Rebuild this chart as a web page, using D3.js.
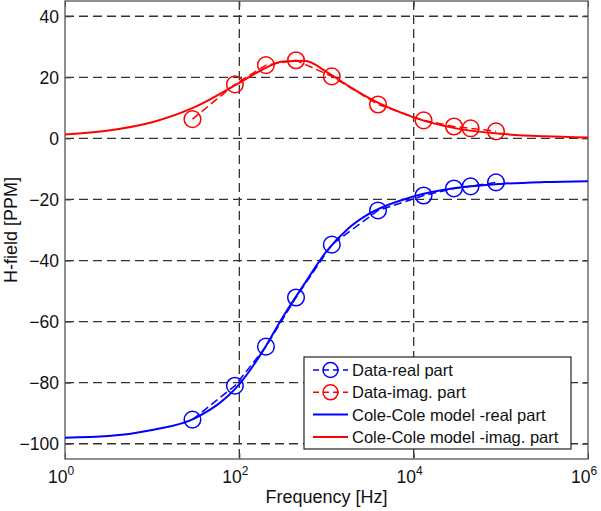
<!DOCTYPE html>
<html><head><meta charset="utf-8">
<script src="https://cdn.jsdelivr.net/npm/d3@7"></script>
<style>body{margin:0;background:#fff}svg{display:block}</style>
</head><body>
<svg id="c" width="601" height="511"></svg>
<script>
// ---- data ----
const dataFreq = [29, 89, 202, 447, 1150, 3900, 13000, 29000, 45000, 88000];
const dataReal = [-92.1, -81, -68.2, -52.1, -34.8, -23.6, -18.7, -16.4, -15.7, -14.4];
const dataImag = [6.3, 17.7, 24, 25.6, 20.3, 11.1, 5.9, 3.9, 3.3, 2.3];

const modelFreq = [1, 3.16, 10, 31.6, 100, 178, 316, 562, 1000, 1778, 3162, 10000, 31623, 100000, 316228, 1000000];
const modelReal = [-98, -97.5, -95.5, -91.5, -80.5, -70.5, -58.5, -47.5, -37, -29.5, -24.5, -19, -16.2, -14.9, -14.3, -14.0];
const modelImag = [1.3, 2.6, 5.3, 10.4, 18.2, 22.3, 25.2, 25.4, 21.8, 17.2, 13.0, 6.9, 3.2, 1.5, 0.7, 0.3];

const yTicks = [-100, -80, -60, -40, -20, 0, 20, 40];
const xTickExps = [0, 2, 4, 6];
const legendLabels = ["Data-real part", "Data-imag. part", "Cole-Cole model -real part", "Cole-Cole model -imag. part"];

// ---- layout ----
const L = 65, R = 588, T = 1, B = 459;
const svg = d3.select("#c");
const x = d3.scaleLog().domain([1, 1e6]).range([L, R]);
const y = d3.scaleLinear().domain([-105, 45]).range([B, T]);
const font = "'Liberation Sans', Arial, sans-serif";
const blue = "#0000ff", red = "#ff0000";

// grid
const g = svg.append("g");
g.selectAll(".hg").data(yTicks).join("line")
  .attr("x1", L).attr("x2", R).attr("y1", d => y(d)).attr("y2", d => y(d))
  .attr("stroke", "#333").attr("stroke-width", 1.3).attr("stroke-dasharray", "9,5");
g.selectAll(".vg").data(xTickExps.slice(1, 3)).join("line")
  .attr("x1", d => x(Math.pow(10, d))).attr("x2", d => x(Math.pow(10, d)))
  .attr("y1", T).attr("y2", B)
  .attr("stroke", "#333").attr("stroke-width", 1.3).attr("stroke-dasharray", "9,5");

// axes via d3 (inward ticks)
const yAxis = d3.axisLeft(y).tickValues(yTicks).tickSize(-6).tickPadding(6).tickFormat(d3.format("d"));
const ya = svg.append("g").attr("transform", `translate(${L},0)`).call(yAxis);
ya.select(".domain").remove();
ya.selectAll("line").attr("stroke", "#444");
ya.selectAll("text").attr("font-family", font).attr("font-size", 17.5).attr("fill", "#111").attr("dy", "0.35em");
const yAxisR = d3.axisRight(y).tickValues(yTicks).tickSize(-6).tickFormat("");
const yr = svg.append("g").attr("transform", `translate(${R},0)`).call(yAxisR);
yr.select(".domain").remove(); yr.selectAll("line").attr("stroke", "#444");

const xAxis = d3.axisBottom(x).tickValues(xTickExps.map(e => Math.pow(10, e))).tickSize(-6).tickFormat("");
const xa = svg.append("g").attr("transform", `translate(0,${B})`).call(xAxis);
xa.select(".domain").remove(); xa.selectAll("line").attr("stroke", "#444");
const xAxisT = d3.axisTop(x).tickValues(xTickExps.map(e => Math.pow(10, e))).tickSize(-6).tickFormat("");
const xt = svg.append("g").attr("transform", `translate(0,${T})`).call(xAxisT);
xt.select(".domain").remove(); xt.selectAll("line").attr("stroke", "#444");

// x tick labels with superscripts
const xl = svg.append("g");
xTickExps.forEach(e => {
  const t = xl.append("text").attr("x", x(Math.pow(10, e)) - 4).attr("y", 483)
    .attr("text-anchor", "middle").attr("font-family", font).attr("font-size", 17.5).attr("fill", "#111");
  t.append("tspan").text("10");
  t.append("tspan").attr("font-size", 12).attr("dy", -8).text(e);
});

// frame
svg.append("rect").attr("x", L).attr("y", T).attr("width", R - L).attr("height", B - T)
  .attr("fill", "none").attr("stroke", "#555").attr("stroke-width", 1.3);

// axis titles
svg.append("text").attr("x", (L + R) / 2).attr("y", 503).attr("text-anchor", "middle")
  .attr("font-family", font).attr("font-size", 18).attr("fill", "#111").text("Frequency [Hz]");
svg.append("text").attr("transform", `translate(17,${(T + B) / 2}) rotate(-90)`).attr("text-anchor", "middle")
  .attr("font-family", font).attr("font-size", 18).attr("fill", "#111").text("H-field [PPM]");

// model curves
const lineM = d3.line().x(d => x(d[0])).y(d => y(d[1])).curve(d3.curveMonotoneX);
svg.append("path").datum(modelFreq.map((f, i) => [f, modelReal[i]])).attr("d", lineM)
  .attr("fill", "none").attr("stroke", blue).attr("stroke-width", 2);
svg.append("path").datum(modelFreq.map((f, i) => [f, modelImag[i]])).attr("d", lineM)
  .attr("fill", "none").attr("stroke", red).attr("stroke-width", 2);

// data
const lineD = d3.line().x(d => x(d[0])).y(d => y(d[1]));
[[dataReal, blue], [dataImag, red]].forEach(([vals, col]) => {
  const pts = dataFreq.map((f, i) => [f, vals[i]]);
  svg.append("path").datum(pts).attr("d", lineD).attr("fill", "none")
    .attr("stroke", col).attr("stroke-width", 1.5).attr("stroke-dasharray", "8,4");
  svg.append("g").selectAll("circle").data(pts).join("circle")
    .attr("cx", d => x(d[0])).attr("cy", d => y(d[1])).attr("r", 8.3)
    .attr("fill", "none").attr("stroke", col).attr("stroke-width", 1.5);
});

// legend
const lg = svg.append("g");
lg.append("rect").attr("x", 304).attr("y", 357).attr("width", 267).attr("height", 92)
  .attr("fill", "#fff").attr("stroke", "#222").attr("stroke-width", 1.2);
const legCols = [blue, red, blue, red];
legendLabels.forEach((lab, i) => {
  const cy = 370 + i * 22.3;
  const isData = i < 2;
  lg.append("line").attr("x1", 313).attr("x2", 348).attr("y1", cy).attr("y2", cy)
    .attr("stroke", legCols[i]).attr("stroke-width", isData ? 1.5 : 2)
    .attr("stroke-dasharray", isData ? "6,4" : null);
  if (isData) lg.append("circle").attr("cx", 330.5).attr("cy", cy).attr("r", 7.5)
    .attr("fill", "none").attr("stroke", legCols[i]).attr("stroke-width", 1.5);
  lg.append("text").attr("x", 352).attr("y", cy).attr("dy", "0.36em")
    .attr("font-family", font).attr("font-size", 16.5).attr("fill", "#111").text(lab);
});
</script>
</body></html>
